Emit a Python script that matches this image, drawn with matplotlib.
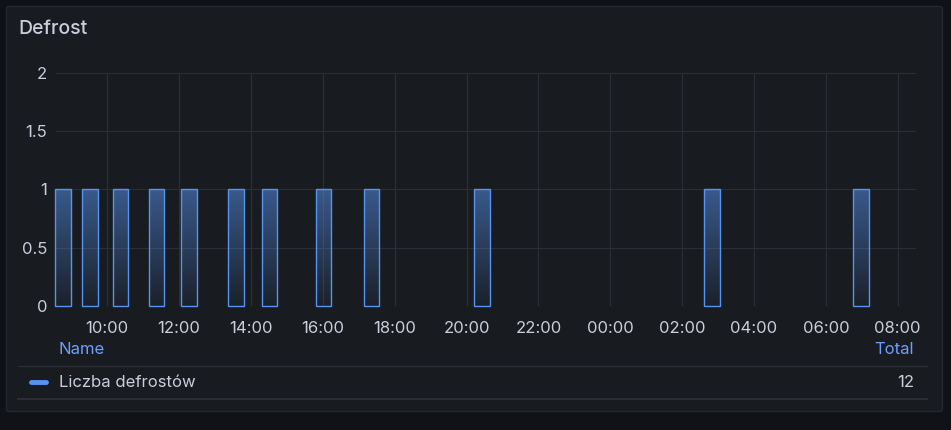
import numpy as np
import matplotlib
matplotlib.use("Agg")
import matplotlib.pyplot as plt
from matplotlib.patches import FancyBboxPatch, Rectangle
from matplotlib.lines import Line2D

plt.rcParams['font.family'] = ['Inter', 'DejaVu Sans']

# data
title = "Defrost"
series_name = "Liczba defrostów"
defrost_times = ["08:46", "09:31", "10:22", "11:22", "12:17", "13:35",
                 "14:31", "16:01", "17:21", "20:26", "02:50", "06:59"]
defrost_counts = [1, 1, 1, 1, 1, 1, 1, 1, 1, 1, 1, 1]
x_tick_labels = ["10:00", "12:00", "14:00", "16:00", "18:00", "20:00",
                 "22:00", "00:00", "02:00", "04:00", "06:00", "08:00"]
y_ticks = [0, 0.5, 1, 1.5, 2]
y_tick_labels = ["0", "0.5", "1", "1.5", "2"]
total_label = "12"

W, H = 951, 430
BG = "#111217"
PANEL = "#181b1f"
TEXT = "#ccccdc"
GRID = "#2b2e34"
BLUE = "#5794f2"
HEAD = "#6e9fff"


def fx(x):
    return x / W


def fy(y):
    return 1 - y / H


def to_hours(s, start=8.5):
    h, m = s.split(":")
    v = int(h) + int(m) / 60
    if v < start:
        v += 24
    return v


xs = np.array([to_hours(t) for t in defrost_times])
tick_pos = np.array([to_hours(t) for t in x_tick_labels])

fig = plt.figure(figsize=(W / 100, H / 100), dpi=100)
fig.patch.set_facecolor(BG)

panel = FancyBboxPatch((fx(6.5), fy(411.5)), fx(936), (411.5 - 6.5) / H,
                       boxstyle="round,pad=0,rounding_size=0.004",
                       transform=fig.transFigure, facecolor=PANEL,
                       edgecolor="#24272d", linewidth=1.0, zorder=-10)
fig.patches.append(panel)

fig.text(fx(18), fy(29), title, color=TEXT, fontsize=14, fontweight="medium",
         ha="left", va="center")

ax = fig.add_axes([fx(55.7), fy(305.7), fx(916 - 55.7), (305.7 - 73) / H])
ax.set_facecolor("none")
ax.set_xlim(8.564, 32.51)
ax.set_ylim(0, 2)
for s in ax.spines.values():
    s.set_visible(False)
ax.set_xticks(tick_pos)
ax.set_xticklabels(x_tick_labels)
ax.set_yticks(y_ticks)
ax.set_yticklabels(y_tick_labels)
ax.tick_params(length=0, colors=TEXT, labelsize=12)
ax.tick_params(axis="x", pad=11)
ax.tick_params(axis="y", pad=6)
ax.grid(True, color=GRID, linewidth=0.8)
ax.set_axisbelow(True)

bar_w = 0.437
grad = np.linspace(0.05, 0.52, 256).reshape(-1, 1)
cmap_img = np.zeros((256, 1, 4))
cmap_img[..., 0] = 87 / 255
cmap_img[..., 1] = 148 / 255
cmap_img[..., 2] = 242 / 255
cmap_img[..., 3] = grad
for x, c in zip(xs, defrost_counts):
    rect = Rectangle((x - bar_w / 2, 0), bar_w, c, facecolor="none",
                     edgecolor=BLUE, linewidth=1.0, clip_on=False, zorder=3)
    ax.add_patch(rect)
    im = ax.imshow(cmap_img, extent=(x - bar_w / 2, x + bar_w / 2, 0, c),
                   origin="lower", aspect="auto", zorder=2,
                   interpolation="bilinear")
    im.set_clip_path(rect)
ax.set_xlim(8.564, 32.51)
ax.set_ylim(0, 2)

# legend table
fig.text(fx(59), fy(349.5), "Name", color=HEAD, fontsize=12, ha="left", va="center")
fig.text(fx(914), fy(349.5), "Total", color=HEAD, fontsize=12, ha="right", va="center")
fig.add_artist(Line2D([fx(18), fx(927)], [fy(366), fy(366)], color="#2a2d33",
                      linewidth=1.0, transform=fig.transFigure))
fig.add_artist(Line2D([fx(31), fx(46)], [fy(382), fy(382)], color=BLUE,
                      linewidth=3.5, solid_capstyle="round",
                      transform=fig.transFigure))
fig.text(fx(59), fy(382.5), series_name, color=TEXT, fontsize=12, ha="left", va="center")
fig.text(fx(914), fy(382.5), total_label, color=TEXT, fontsize=12, ha="right", va="center")
fig.add_artist(Line2D([fx(18), fx(927)], [fy(398.5), fy(398.5)], color="#2a2d33",
                      linewidth=1.5, transform=fig.transFigure))

fig.savefig("out.png", dpi=100, facecolor=BG)
